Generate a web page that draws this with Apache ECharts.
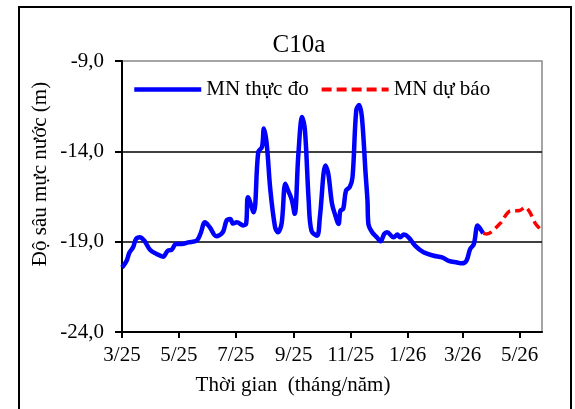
<!DOCTYPE html>
<html>
<head>
<meta charset="utf-8">
<script src="https://cdn.jsdelivr.net/npm/echarts@6/dist/echarts.min.js"></script>
<style>
  html, body { margin: 0; padding: 0; background: #fff; }
  #chart { width: 575px; height: 409px; }
</style>
</head>
<body>
<div id="chart"></div>
<script>
// mực nước thực đo
var obsDates = [
  '2025-03-01', '2025-03-06', '2025-03-09', '2025-03-13', '2025-03-16', '2025-03-20', '2025-03-25', '2025-03-31',
  '2025-04-07', '2025-04-14', '2025-04-19', '2025-04-23', '2025-04-28', '2025-05-04', '2025-05-11', '2025-05-20',
  '2025-05-24', '2025-05-29', '2025-06-03', '2025-06-10', '2025-06-17', '2025-06-21', '2025-06-25', '2025-06-28',
  '2025-07-02', '2025-07-09', '2025-07-12', '2025-07-14', '2025-07-20', '2025-07-25', '2025-07-29', '2025-07-31',
  '2025-08-03', '2025-08-07', '2025-08-12', '2025-08-15', '2025-08-19', '2025-08-23', '2025-08-26', '2025-08-30',
  '2025-09-02', '2025-09-06', '2025-09-10', '2025-09-13', '2025-09-17', '2025-09-20', '2025-09-26', '2025-09-29',
  '2025-10-05', '2025-10-08', '2025-10-12', '2025-10-15', '2025-10-19', '2025-10-21', '2025-10-24', '2025-10-27',
  '2025-10-31', '2025-11-03', '2025-11-07', '2025-11-10', '2025-11-13', '2025-11-17', '2025-11-19', '2025-11-20',
  '2025-11-24', '2025-11-29', '2025-12-03', '2025-12-07', '2025-12-10', '2025-12-17', '2025-12-21', '2025-12-24',
  '2025-12-28', '2026-01-02', '2026-01-09', '2026-01-18', '2026-01-29', '2026-02-07', '2026-02-14', '2026-02-23',
  '2026-02-28', '2026-03-05', '2026-03-09', '2026-03-13', '2026-03-17', '2026-03-20', '2026-03-23'
];
var obsDepth = [
  -20.43, -20.05, -19.6, -19.3, -18.85, -18.75, -18.95, -19.45,
  -19.68, -19.83, -19.5, -19.46, -19.13, -19.13, -19.04, -18.94,
  -18.57, -17.93, -18.2, -18.7, -18.48, -17.83, -17.74, -18.0,
  -17.93, -18.1, -18.0, -16.54, -17.37, -14.04, -13.76, -12.74,
  -13.57, -16.17, -18.2, -18.48, -18.0, -15.8, -16.17, -16.7,
  -17.46, -14.13, -12.1, -12.83, -16.72, -18.4, -18.67, -17.65,
  -14.78, -15.24, -16.9, -17.46, -18.02, -17.28, -17.19, -16.17,
  -15.98, -15.43, -11.72, -11.44, -12.09, -15.24, -16.72, -18.02,
  -18.48, -18.76, -18.98, -18.57, -18.48, -18.76, -18.61, -18.76,
  -18.61, -18.76, -19.22, -19.59, -19.78, -19.87, -20.06, -20.15,
  -20.2, -20.06, -19.41, -19.13, -18.1, -18.3, -18.54
];
// mực nước dự báo
var fcDates = ['2026-03-23', '2026-03-27', '2026-04-10', '2026-04-21', '2026-05-01', '2026-05-07', '2026-05-12', '2026-05-18', '2026-05-24'];
var fcDepth = [-18.54, -18.57, -18.0, -17.3, -17.28, -17.09, -17.37, -18.0, -18.35];

var tickDates = ['2025-03-01', '2025-05-01', '2025-07-01', '2025-09-01', '2025-11-01', '2026-01-01', '2026-03-01', '2026-05-01'];
var tickLabels = ['3/25', '5/25', '7/25', '9/25', '11/25', '1/26', '3/26', '5/26'];
var yTicks = [-24, -19, -14, -9];

var startDate = '2025-03-01';
var endDate = '2026-05-25';

var FONT = '"Liberation Serif", "DejaVu Serif", serif';

// số ngày kể từ startDate
function toDay(s) {
  var p = s.split('-');
  var q = startDate.split('-');
  return (Date.UTC(+p[0], +p[1] - 1, +p[2]) - Date.UTC(+q[0], +q[1] - 1, +q[2])) / 86400000;
}
var tickDays = tickDates.map(toDay);

var myChart = echarts.init(document.getElementById('chart'));
var option = {
  animation: false,
  backgroundColor: '#fff',
  title: {
    text: 'C10a',
    left: 294,
    top: 28,
    textAlign: 'center',
    textStyle: { fontFamily: FONT, fontSize: 25, fontWeight: 'normal', color: '#000' }
  },
  legend: {
    left: 127,
    top: 74,
    itemWidth: 67,
    itemHeight: 14,
    itemGap: 11,
    itemStyle: { opacity: 0 },
    textStyle: { fontFamily: FONT, fontSize: 21, color: '#000' },
    data: [
      { name: 'MN thực đo', lineStyle: { width: 4.5 } },
      { name: 'MN dự báo', lineStyle: { width: 4, type: [10, 5] } }
    ]
  },
  grid: {
    left: 122,
    top: 61,
    right: 33,
    bottom: 77,
    show: true,
    borderColor: '#888',
    borderWidth: 1.5
  },
  xAxis: {
    type: 'value',
    min: 0,
    max: toDay(endDate),
    axisLine: { lineStyle: { color: '#000', width: 2 } },
    axisTick: { customValues: tickDays, length: 6, lineStyle: { color: '#000', width: 2 } },
    axisLabel: {
      customValues: tickDays,
      margin: 13,
      fontFamily: FONT,
      fontSize: 21,
      color: '#000',
      formatter: function (v) {
        var i = tickDays.indexOf(v);
        return i >= 0 ? tickLabels[i] : '';
      }
    },
    splitLine: { show: false }
  },
  yAxis: {
    type: 'value',
    min: yTicks[0],
    max: yTicks[yTicks.length - 1],
    interval: 5,
    axisLine: { show: true, lineStyle: { color: '#000', width: 2 } },
    axisTick: { show: true, length: 7, lineStyle: { color: '#000', width: 2 } },
    axisLabel: {
      margin: 18,
      fontFamily: FONT,
      fontSize: 21,
      color: '#000',
      formatter: function (v) { return v.toFixed(1).replace('.', ','); }
    },
    splitLine: { show: true, showMaxLine: false, lineStyle: { color: '#000', width: 1.5 } }
  },
  series: [
    {
      name: 'MN thực đo',
      type: 'line',
      data: obsDates.map(function (d, i) { return [toDay(d), obsDepth[i]]; }),
      symbol: 'none',
      smooth: 0.35,
      lineStyle: { color: '#0000ff', width: 4.5 },
      itemStyle: { color: '#0000ff' },
      z: 3
    },
    {
      name: 'MN dự báo',
      type: 'line',
      data: fcDates.map(function (d, i) { return [toDay(d), fcDepth[i]]; }),
      symbol: 'none',
      smooth: 0.3,
      lineStyle: { color: '#ff0000', width: 3.5, type: [9, 5] },
      itemStyle: { color: '#ff0000' },
      z: 3
    }
  ],
  graphic: [
    {
      type: 'rect',
      shape: { x: 19, y: 7, width: 552, height: 420 },
      style: { fill: 'none', stroke: '#000', lineWidth: 2 },
      silent: true
    },
    {
      type: 'text',
      x: 40,
      y: 174,
      rotation: Math.PI / 2,
      style: {
        text: 'Độ sâu mực nước (m)',
        font: '21px ' + FONT,
        fill: '#000',
        align: 'center',
        verticalAlign: 'middle'
      }
    },
    {
      type: 'text',
      x: 293,
      y: 385,
      style: {
        text: 'Thời gian  (tháng/năm)',
        font: '21px ' + FONT,
        fill: '#000',
        align: 'center',
        verticalAlign: 'middle'
      }
    }
  ]
};
myChart.setOption(option);
window.addEventListener('resize', function () {
  myChart.resize();
});
</script>
</body>
</html>
